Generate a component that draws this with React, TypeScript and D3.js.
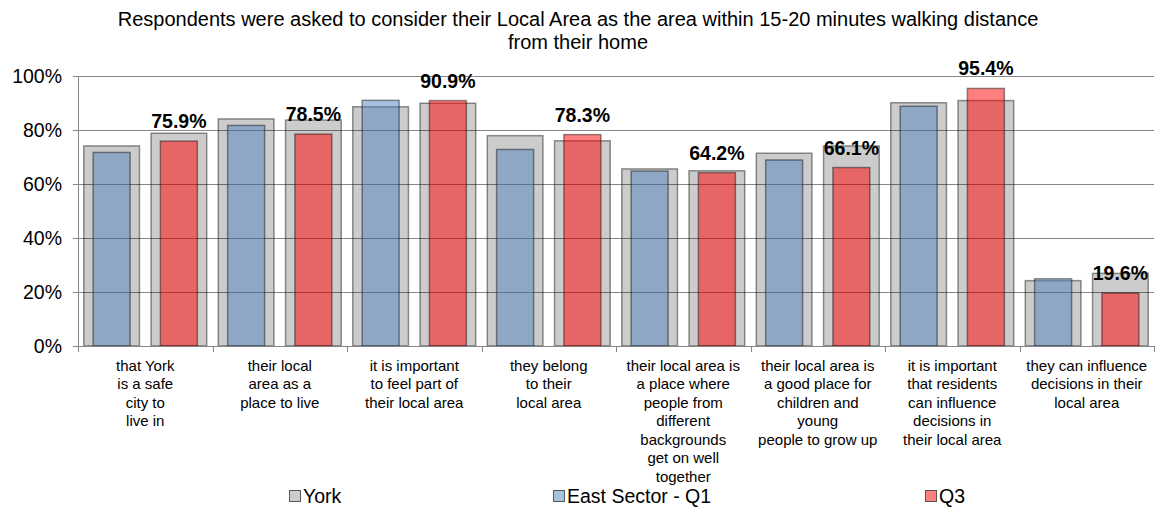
import React from "react";
import * as d3 from "d3";

const categories: string[][] = [
  ["that York", "is a safe", "city to", "live in"],
  ["their local", "area as a", "place to live"],
  ["it is important", "to feel part of", "their local area"],
  ["they belong", "to their", "local area"],
  ["their local area is", "a place where", "people from", "different", "backgrounds", "get on well", "together"],
  ["their local area is", "a good place for", "children and", "young", "people to grow up"],
  ["it is important", "that residents", "can influence", "decisions in", "their local area"],
  ["they can influence", "decisions in their", "local area"],
];

// York comparison (behind Q1) and York comparison (behind Q3)
const yorkQ1: number[] = [74.1, 84.1, 88.6, 77.9, 65.6, 71.4, 90.1, 24.2];
const yorkQ3: number[] = [78.8, 83.7, 89.9, 76.0, 64.9, 74.1, 90.9, 26.9];
const eastQ1: number[] = [71.7, 81.7, 91.0, 72.8, 64.8, 68.9, 88.8, 24.9];
const eastQ3: number[] = [75.9, 78.5, 90.9, 78.3, 64.2, 66.1, 95.4, 19.6];

const yTicks: number[] = [0, 20, 40, 60, 80, 100];
const titleLines: string[] = [
  "Respondents were asked to consider their Local Area as the area within 15-20 minutes walking distance",
  "from their home",
];
const legendItems = [
  { label: "York", fill: "#cccccc" },
  { label: "East Sector - Q1", fill: "#a7c0de" },
  { label: "Q3", fill: "#ff8080" },
];

const W = 1156;
const H = 510;
const M = { left: 78, right: 2, top: 76, bottom: 164 };

export default function App() {
  const plotLeft = M.left;
  const plotRight = W - M.right;
  const plotTop = M.top;
  const plotBottom = H - M.bottom;

  const x = d3
    .scaleBand<number>()
    .domain(d3.range(categories.length))
    .range([plotLeft, plotRight])
    .paddingInner(0)
    .paddingOuter(0);
  const sub = d3
    .scaleBand<string>()
    .domain(["q1", "q3"])
    .range([0, x.bandwidth()])
    .paddingInner(0.172)
    .paddingOuter(0.086);
  const y = d3.scaleLinear().domain([0, 100]).range([plotBottom, plotTop]);

  const gw = sub.bandwidth();
  const cw = gw * 0.664;
  const font = "Arial, 'Liberation Sans', Helvetica, sans-serif";
  const axisColor = "#868686";
  const stroke = "rgba(0,0,0,0.42)";

  const legendX = [289, 553, 925];

  return (
    <svg
      width={W}
      height={H}
      style={{ position: "absolute", left: 0, top: 0, background: "#fff" }}
      fontFamily={font}
    >
      {/* Title */}
      {titleLines.map((t, i) => (
        <text key={i} x={578} y={26 + i * 23} textAnchor="middle" fontSize={20} fill="#000">
          {t}
        </text>
      ))}

      {/* Gridlines */}
      {yTicks.map((t) => (
        <line
          key={t}
          x1={plotLeft - 5}
          x2={plotRight}
          y1={Math.round(y(t)) + 0.5}
          y2={Math.round(y(t)) + 0.5}
          stroke={axisColor}
          strokeWidth={1}
        />
      ))}
      {yTicks.map((t) => (
        <text
          key={"l" + t}
          x={62}
          y={y(t) + 7}
          textAnchor="end"
          fontSize={19.5}
          fill="#000"
        >
          {t + "%"}
        </text>
      ))}
      {/* y axis */}
      <line x1={plotLeft + 0.5} x2={plotLeft + 0.5} y1={plotTop} y2={plotBottom} stroke={axisColor} />
      {/* category ticks */}
      {d3.range(categories.length + 1).map((i) => {
        const xx = Math.round(plotLeft + i * x.step()) + 0.5;
        return <line key={i} x1={xx} x2={xx} y1={plotBottom} y2={plotBottom + 6} stroke={axisColor} />;
      })}

      {/* Bars */}
      {categories.map((_, i) => {
        const x0 = x(i)!;
        const xa = x0 + sub("q1")!;
        const xb = x0 + sub("q3")!;
        const off = (gw - cw) / 2;
        return (
          <g key={i}>
            <rect x={xa} y={y(yorkQ1[i])} width={gw} height={plotBottom - y(yorkQ1[i])} fill="rgba(0,0,0,0.2)" stroke={stroke} strokeWidth={1.5} />
            <rect x={xb} y={y(yorkQ3[i])} width={gw} height={plotBottom - y(yorkQ3[i])} fill="rgba(0,0,0,0.2)" stroke={stroke} strokeWidth={1.5} />
            <rect x={xa + off} y={y(eastQ1[i])} width={cw} height={plotBottom - y(eastQ1[i])} fill="rgba(79,129,189,0.5)" stroke={stroke} strokeWidth={1.5} />
            <rect x={xb + off} y={y(eastQ3[i])} width={cw} height={plotBottom - y(eastQ3[i])} fill="rgba(255,0,0,0.5)" stroke={stroke} strokeWidth={1.5} />
            <text x={xb + gw / 2} y={y(eastQ3[i]) - 13} textAnchor="middle" fontSize={19.5} fontWeight="bold" fill="#000">
              {eastQ3[i].toFixed(1) + "%"}
            </text>
          </g>
        );
      })}
      {/* x axis line */}
      <line x1={plotLeft} x2={plotRight} y1={plotBottom + 0.5} y2={plotBottom + 0.5} stroke={axisColor} />

      {/* Category labels */}
      {categories.map((lines, i) => (
        <text key={i} textAnchor="middle" fontSize={15} fill="#000">
          {lines.map((ln, j) => (
            <tspan key={j} x={x(i)! + x.bandwidth() / 2} y={370.5 + j * 18.5}>
              {ln}
            </tspan>
          ))}
        </text>
      ))}

      {/* Legend */}
      {legendItems.map((it, i) => (
        <g key={i}>
          <rect x={legendX[i] + 0.5} y={490.5} width={11} height={11} fill={it.fill} stroke="#555" strokeWidth={1} />
          <text x={legendX[i] + 14} y={503} fontSize={19.5} fill="#000">
            {it.label}
          </text>
        </g>
      ))}
    </svg>
  );
}
